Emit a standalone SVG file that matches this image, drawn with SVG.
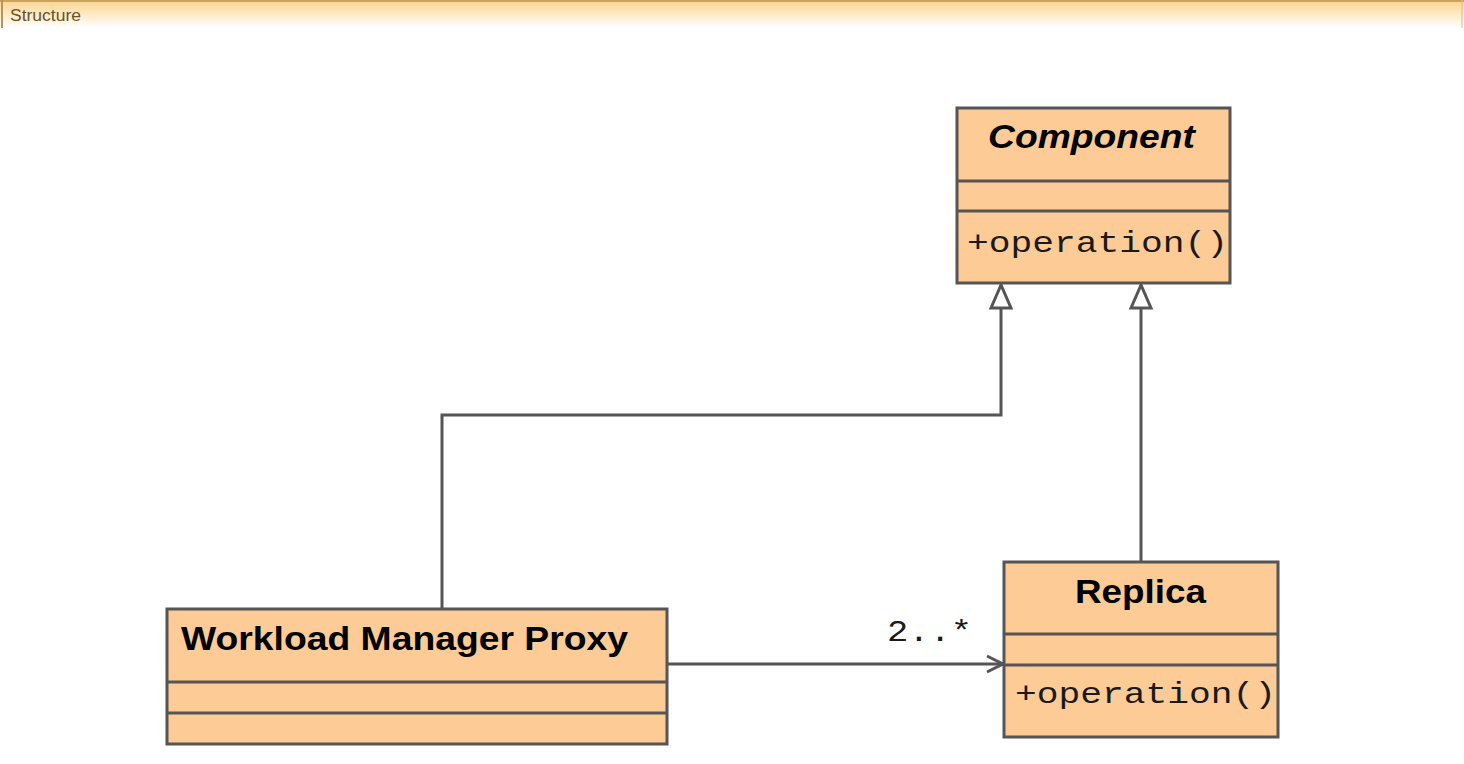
<svg xmlns="http://www.w3.org/2000/svg" width="1464" height="764" viewBox="0 0 1464 764">
<defs>
<linearGradient id="hdr" x1="0" y1="0" x2="0" y2="1">
<stop offset="0" stop-color="#f9d48e"/>
<stop offset="0.5" stop-color="#fde9c4"/>
<stop offset="1" stop-color="#ffffff"/>
</linearGradient>
<marker id="gen" markerUnits="userSpaceOnUse" markerWidth="28" markerHeight="26" refX="26" refY="13" orient="auto" viewBox="0 0 28 26">
<path d="M26 13 L3 3 L3 23 Z" fill="#ffffff" stroke="#555555" stroke-width="3" stroke-linejoin="miter"/>
</marker>
<marker id="open" markerUnits="userSpaceOnUse" markerWidth="24" markerHeight="24" refX="18" refY="10" orient="auto" viewBox="0 0 24 20">
<path d="M2 2 L18 10 L2 18" fill="none" stroke="#555555" stroke-width="3"/>
</marker>
</defs>
<style>
.box{fill:#fdcb96;stroke:#555555;stroke-width:3}
.div{stroke:#555555;stroke-width:3}
.name{font-family:"Liberation Sans",Arial,sans-serif;font-weight:bold;fill:#000000}
.mono{font-family:"Liberation Mono","Courier New",monospace;fill:#1a1a1a}
.conn{fill:none;stroke:#555555;stroke-width:3}
</style>
<rect width="1464" height="764" fill="#ffffff"/>
<g id="header">
<rect x="0" y="0" width="1464" height="28" fill="url(#hdr)"/>
<line x1="0" y1="1" x2="1464" y2="1" stroke="#c9a35e" stroke-width="2"/>
<line x1="2" y1="0" x2="2" y2="28" stroke="#b8935a" stroke-width="2"/>
<line x1="1462" y1="0" x2="1462" y2="28" stroke="#d9bb88" stroke-width="1"/>
<text x="10" y="21" font-family="'Liberation Sans',Arial,sans-serif" font-size="16" fill="#6b5224" textLength="71" lengthAdjust="spacingAndGlyphs">Structure</text>
</g>
<g id="connectors">
<polyline class="conn" points="442,609 442,415 1001,415 1001,285" marker-end="url(#gen)"/>
<polyline class="conn" points="1141,562 1141,285" marker-end="url(#gen)"/>
<line class="conn" x1="667" y1="664" x2="1003" y2="664" marker-end="url(#open)"/>
<text class="mono" x="887" y="641" font-size="30" textLength="85" lengthAdjust="spacingAndGlyphs">2..*</text>
</g>
<g id="component">
<rect class="box" x="957" y="108" width="273" height="175"/>
<line class="div" x1="957" y1="181" x2="1230" y2="181"/>
<line class="div" x1="957" y1="211" x2="1230" y2="211"/>
<text class="name" x="988" y="148" font-size="33" font-style="italic" textLength="207" lengthAdjust="spacingAndGlyphs">Component</text>
<text class="mono" x="967" y="252" font-size="30" textLength="261" lengthAdjust="spacingAndGlyphs">+operation()</text>
</g>
<g id="replica">
<rect class="box" x="1004" y="562" width="274" height="175"/>
<line class="div" x1="1004" y1="634" x2="1278" y2="634"/>
<line class="div" x1="1004" y1="665" x2="1278" y2="665"/>
<text class="name" x="1075" y="603" font-size="34" textLength="131" lengthAdjust="spacingAndGlyphs">Replica</text>
<text class="mono" x="1015" y="703" font-size="30" textLength="261" lengthAdjust="spacingAndGlyphs">+operation()</text>
</g>
<g id="workload-manager-proxy">
<rect class="box" x="167" y="609" width="500" height="135"/>
<line class="div" x1="167" y1="682" x2="667" y2="682"/>
<line class="div" x1="167" y1="713" x2="667" y2="713"/>
<text class="name" x="181" y="650" font-size="34" textLength="447" lengthAdjust="spacingAndGlyphs">Workload Manager Proxy</text>
</g>
</svg>
